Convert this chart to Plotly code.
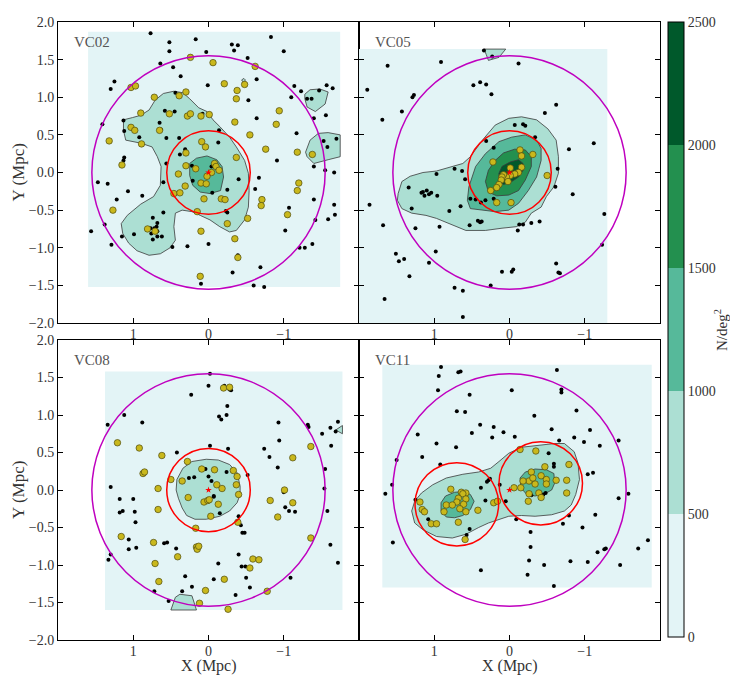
import plotly.graph_objects as go

# ---------------- data ----------------
panel_names = ["VC02", "VC05", "VC08", "VC11"]
level_edges = [0, 500, 1000, 1500, 2000, 2500]
level_colors = ["#e3f4f6", "#acdfd3", "#56b99a", "#23904f", "#00592b"]
x_tick_vals = [1, 0, -1]
x_tick_text = ["1", "0", "\u22121"]
y_tick_vals = [-2.0, -1.5, -1.0, -0.5, 0.0, 0.5, 1.0, 1.5, 2.0]
y_tick_text = ["\u22122.0", "\u22121.5", "\u22121.0", "\u22120.5", "0.0", "0.5", "1.0", "1.5", "2.0"]

# density-grid extents (x_left, x_right, y_bottom, y_top)
grid_extent = [
    [1.60, -1.75, -1.52, 1.87],
    [2.05, -1.30, -2.05, 1.64],
    [1.375, -1.78, -1.60, 1.58],
    [1.69, -1.89, -1.30, 1.67],
]

# red circles (cx, cy, r) and magenta circle radius
red_circles = [
    [[0.0, 0.0, 0.555]],
    [[0.0, 0.0, 0.555]],
    [[0.0, 0.0, 0.555]],
    [[0.70, -0.19, 0.555], [-0.415, 0.09, 0.555]],
]
outer_radius = [1.55, 1.55, 1.55, 1.55]

# ---- contour polygons: (level index, x list, y list) ----
vc02_contours = [
    (1,
     [0.46, 0.34, 0.25, 0.13, 0.02, -0.06, -0.15, -0.28, -0.37, -0.48, -0.53, -0.54, -0.53, -0.48, -0.37, -0.28,
      -0.15, -0.02, 0.11, 0.22, 0.35, 0.44, 0.46, 0.44, 0.51, 0.64, 0.79, 0.95, 1.06, 1.14, 1.16, 1.08, 0.90, 0.73,
      0.64, 0.63, 0.68, 0.75, 0.90, 1.10, 1.13, 1.13, 1.01, 0.90, 0.79, 0.71, 0.60],
     [1.08, 1.06, 0.98, 0.86, 0.81, 0.70, 0.61, 0.47, 0.34, 0.16, -0.01, -0.24, -0.46, -0.63, -0.77, -0.79,
      -0.72, -0.63, -0.57, -0.52, -0.50, -0.54, -0.72, -0.90, -1.00, -1.08, -1.10, -1.04, -0.94, -0.81, -0.68, -0.57,
      -0.42, -0.32, -0.17, 0.08, 0.21, 0.34, 0.39, 0.43, 0.56, 0.70, 0.73, 0.76, 0.83, 0.96, 1.05]),
    (1,
     [-1.28, -1.35, -1.48, -1.59, -1.55, -1.42, -1.31, -1.28],
     [1.04, 1.10, 1.11, 1.07, 0.91, 0.81, 0.87, 0.98]),
    (1,
     [-1.29, -1.35, -1.46, -1.59, -1.75, -1.75, -1.59, -1.40, -1.31],
     [0.27, 0.43, 0.52, 0.53, 0.50, 0.21, 0.17, 0.12, 0.21]),
    (1,
     [-0.44, -0.47, -0.49, -0.47],
     [1.23, 1.25, 1.23, 1.19]),
    (2,
     [0.25, 0.16, 0.02, -0.11, -0.18, -0.20, -0.16, -0.02, 0.11, 0.21, 0.25],
     [0.12, 0.19, 0.22, 0.17, 0.08, -0.06, -0.24, -0.28, -0.26, -0.17, -0.04]),
]

vc05_contours = [
    (1,
     [1.48, 1.43, 1.32, 1.15, 0.97, 0.76, 0.62, 0.52, 0.36, 0.19, 0.01, -0.16, -0.36, -0.51, -0.62, -0.65, -0.65,
      -0.59, -0.49, -0.42, -0.29, -0.21, -0.09, 0.10, 0.32, 0.58, 0.71, 0.84, 0.97, 1.11, 1.30, 1.43, 1.49],
     [-0.28, -0.12, -0.05, 0.00, 0.02, 0.08, 0.12, 0.21, 0.43, 0.63, 0.72, 0.74, 0.70, 0.58, 0.43, 0.21, -0.01,
      -0.19, -0.32, -0.46, -0.54, -0.66, -0.72, -0.74, -0.77, -0.77, -0.72, -0.66, -0.61, -0.57, -0.54, -0.48, -0.37]),
    (1,
     [0.34, 0.05, 0.14, 0.28, 0.31],
     [1.64, 1.64, 1.53, 1.49, 1.57]),
    (2,
     [0.56, 0.54, 0.45, 0.32, 0.14, -0.03, -0.21, -0.36, -0.42, -0.42, -0.36, -0.25, -0.12, 0.01, 0.19, 0.36, 0.52],
     [-0.37, -0.19, 0.08, 0.25, 0.41, 0.47, 0.50, 0.43, 0.32, 0.16, -0.06, -0.24, -0.41, -0.50, -0.52, -0.50, -0.48]),
    (3,
     [0.32, 0.28, 0.19, 0.08, -0.07, -0.21, -0.29, -0.29, -0.21, -0.12, 0.01, 0.17, 0.28],
     [-0.12, 0.03, 0.16, 0.26, 0.31, 0.30, 0.21, 0.08, -0.10, -0.24, -0.30, -0.31, -0.26]),
    (4,
     [0.14, 0.10, -0.01, -0.12, -0.18, -0.18, -0.12, -0.03, 0.08, 0.14],
     [-0.01, 0.08, 0.14, 0.17, 0.12, 0.03, -0.06, -0.12, -0.16, -0.10]),
]

vc08_contours = [
    (1,
     [0.42, 0.34, 0.22, 0.03, -0.13, -0.28, -0.38, -0.42, -0.42, -0.38, -0.28, -0.15, 0.03, 0.18, 0.29, 0.35, 0.40, 0.43],
     [0.14, 0.29, 0.38, 0.41, 0.40, 0.34, 0.23, 0.05, -0.06, -0.17, -0.28, -0.35, -0.39, -0.39, -0.34, -0.24, -0.11, 0.00]),
    (1,
     [0.50, 0.44, 0.38, 0.22, 0.16],
     [-1.60, -1.43, -1.39, -1.41, -1.60]),
    (1,
     [-1.69, -1.78, -1.78],
     [0.80, 0.86, 0.75]),
]

vc11_contours = [
    (1,
     [1.30, 1.26, 1.17, 1.02, 0.84, 0.62, 0.41, 0.25, 0.14, 0.01, -0.16, -0.38, -0.60, -0.73, -0.86, -0.91, -0.93,
      -0.88, -0.82, -0.73, -0.56, -0.34, -0.16, 0.01, 0.14, 0.28, 0.41, 0.58, 0.76, 0.97, 1.15, 1.26],
     [-0.28, -0.15, -0.04, 0.07, 0.16, 0.21, 0.24, 0.29, 0.38, 0.49, 0.57, 0.60, 0.62, 0.62, 0.51, 0.36, 0.14,
      -0.06, -0.20, -0.28, -0.33, -0.35, -0.34, -0.35, -0.39, -0.44, -0.50, -0.59, -0.64, -0.62, -0.53, -0.44]),
    (2,
     [0.91, 0.85, 0.73, 0.60, 0.52, 0.47, 0.52, 0.62, 0.73, 0.84, 0.91],
     [-0.17, -0.08, -0.03, -0.02, -0.06, -0.15, -0.26, -0.34, -0.37, -0.36, -0.28]),
    (2,
     [-0.14, -0.21, -0.34, -0.49, -0.59, -0.60, -0.56, -0.47, -0.34, -0.23, -0.15],
     [0.16, 0.24, 0.28, 0.27, 0.22, 0.09, 0.00, -0.05, -0.08, -0.06, 0.03]),
]
contours = [vc02_contours, vc05_contours, vc08_contours, vc11_contours]

# ---- black points (all sources) ----
vc02_black_x = [0.77, 0.52, 0.52, 0.17, 0.03, -0.31, -0.39, -0.34, -0.83, -1.00, -0.52, 0.64, 0.47, 0.37, 1.25, 1.30,
                0.01, -0.64, -1.14, -1.23, -1.10, -1.47, -1.57, -1.65, -1.31, -1.37, 0.44, 0.45, 0.58, -0.53, 0.08,
                -1.40, -1.56, -0.64, 1.13, 1.41, 1.12, 0.65, 0.63, -0.14, 0.92, 0.56, 0.39, -1.17, -1.53, -1.70,
                -1.58, -0.13, 0.31, 0.38, 1.12, 1.13, 0.56, -0.04, 0.22, -1.40, -1.55, -1.67, -0.67, -0.40, 0.21,
                1.47, 1.34, 1.07, 0.88, 0.60, -0.05, -0.25, -0.62, -0.91, 1.22, -1.40, -1.67, -1.07, -0.23, -0.25,
                0.60, -1.42, -1.59, -1.68, 1.38, 1.56, 0.74, 0.68, 0.77, 0.72, 0.69, 0.68, 0.76, 0.68, 0.74, 0.62,
                1.15, 0.99, 1.29, 0.48, 0.28, 0.00, -0.39, -0.38, -1.02, -1.21, -1.28, -1.38, -0.69, -0.32, -0.60,
                -0.74, 0.10]
vc02_black_y = [1.85, 1.73, 1.61, 1.77, 1.60, 1.70, 1.69, 1.62, 1.80, 1.61, 1.52, 1.45, 1.40, 1.28, 1.21, 1.11,
                1.16, 1.24, 1.15, 1.08, 1.00, 1.09, 1.16, 1.12, 0.98, 0.98, 1.06, 0.81, 0.82, 0.96, 0.78,
                0.72, 0.76, 0.72, 0.69, 0.64, 0.55, 0.66, 0.57, 0.56, 0.47, 0.46, 0.46, 0.52, 0.42, 0.45,
                0.34, 0.40, 0.31, 0.24, 0.20, 0.16, 0.12, 0.08, 0.09, 0.08, 0.03, 0.00, -0.07, -0.09, -0.11,
                -0.13, -0.15, -0.25, -0.31, -0.13, -0.27, -0.23, -0.22, 0.16, -0.36, -0.36, -0.43, -0.47, -0.51, -0.53,
                -0.53, -0.63, -0.62, -0.56, -0.69, -0.78, -0.60, -0.67, -0.74, -0.74, -0.72, -0.78, -0.81, -0.85, -0.89, -0.85,
                -0.85, -0.82, -0.96, -0.99, -0.98, -0.95, -1.10, -1.12, -0.77, -1.00, -1.00, -0.95, -1.26, -1.33, -1.50,
                -1.52, -1.48]

vc02_yellow_x = [0.24, -0.06, -0.62, -0.21, 1.03, 0.97, 0.30, 0.39, 0.72, -0.38, -0.48, -0.37, 0.90, 0.52, 0.28,
                 0.24, 0.10, -0.01, -0.94, -0.90, -0.35, 1.03, 0.98, 0.65, -0.55, 1.32, 0.89, 0.09, 0.04, -0.76,
                 0.30, -0.37, -1.18, -1.38, 1.15, 0.30, 0.17, -0.08, -0.10, -0.14, -0.04, 0.02, 0.40, 0.10, 0.03,
                 0.31, 0.46, 0.38, 0.06, -0.17, -0.22, -1.20, -1.18, 1.27, 0.15, -0.71, -0.70, -1.05, -0.52, -0.25,
                 0.81, 0.71, 0.10, -0.35, -0.39, 0.11]
vc02_yellow_y = [1.53, 1.46, 1.41, 1.18, 1.13, 1.15, 1.07, 1.02, 1.00, 1.09, 1.17, 0.98, 0.79, 0.78, 0.75,
                 0.78, 0.75, 0.77, 0.82, 0.64, 0.67, 0.60, 0.56, 0.56, 0.50, 0.42, 0.38, 0.41, 0.34, 0.31,
                 0.26, 0.20, 0.27, 0.24, 0.10, 0.09, 0.05, 0.12, 0.08, 0.03, 0.00, -0.05, -0.02, -0.14, -0.15,
                 -0.18, -0.28, -0.27, -0.35, -0.35, -0.36, -0.14, -0.24, -0.50, -0.52, -0.36, -0.44, -0.56, -0.61, -0.68,
                 -0.75, -0.78, -0.78, -0.88, -1.13, -1.38]

vc05_black_x = [1.89, 1.62, 0.91, 1.27, 1.29, 1.43, 1.69, 0.48, 0.39, 0.31, 0.24, -0.62, -0.47, -0.07, -0.18, -0.21,
                -0.34, 0.31, 0.21, -0.79, -1.12, 0.73, 0.63, 0.59, 0.97, -0.64, 1.34, 1.17, 1.15, 1.13, 1.10, 1.07,
                1.04, 0.96, 1.86, 1.30, 0.80, 0.65, 0.52, 0.45, 0.38, 0.32, 0.21, -0.61, -0.84, -1.26, 1.68, 1.25,
                0.93, 0.53, 0.42, 0.39, 0.37, -0.13, -0.18, -0.29, -0.40, -0.11, -1.23, 1.51, 1.47, 1.40, 0.98,
                1.07, 1.33, -0.62, -0.65, -0.67, 0.10, -0.03, -0.05, 0.25, 0.73, 0.62, 1.66, 0.62, -0.12, 0.23, 0.34]
vc05_black_y = [1.10, 1.42, 1.47, 1.03, 1.00, 0.81, 0.70, 1.16, 1.20, 1.17, 1.04, 0.90, 0.79, 0.63, 0.64, 0.62,
                0.47, 0.42, 0.33, 0.31, 0.39, 0.05, 0.02, -0.09, -0.02, 0.05, -0.20, -0.27, -0.26, -0.31, -0.24, -0.29,
                -0.27, -0.31, -0.43, -0.48, -0.51, -0.45, -0.35, -0.36, -0.40, -0.37, -0.35, -0.19, -0.29, -0.55, -0.70, -0.74,
                -0.72, -0.70, -0.64, -0.66, -0.65, -0.69, -0.69, -0.67, -0.65, -0.77, -0.96, -1.08, -1.18, -1.15, -1.05,
                -1.20, -1.38, -1.21, -1.33, -1.34, -1.32, -1.32, -1.29, -1.50, -1.53, -1.57, -1.68, -1.92, 1.45, 1.54, 1.62]

vc05_yellow_x = [0.22, -0.14, -0.16, -0.31, -0.01, -0.16, -0.12, -0.07, -0.01, 0.04, 0.08, 0.10, 0.11, 0.02, 0.14,
                 0.17, 0.25, -0.50, 0.17, -0.02]
vc05_yellow_y = [0.14, 0.30, 0.22, 0.24, 0.06, 0.07, 0.00, -0.02, -0.04, -0.06, -0.03, -0.06, -0.10, -0.12, -0.16,
                 -0.20, -0.24, -0.04, -0.40, -0.40]

vc08_black_x = [-0.02, 0.00, 0.23, -0.21, -0.28, -0.30, -0.25, -0.14, -0.17, -0.24, 1.34, 1.12, 0.88, -0.02, -0.26,
                0.42, -0.74, -0.81, -0.93, -0.94, -0.92, -1.32, -1.33, -1.51, -1.62, -1.72, -1.69, -1.63, -1.55, -1.54,
                -1.58, -1.62, -1.72, 1.30, 1.18, 1.18, 1.14, 1.00, 0.98, 0.97, 1.06, 1.06, 0.96, 1.30, 1.33, 0.26,
                0.19, 0.04, 0.00, -0.04, -0.24, -0.52, -0.07, -0.07, -0.15, -1.00, -1.02, -1.07, -1.15, -1.09, -0.40,
                -0.43, -0.45, -0.48, -0.40, -0.44, -0.49, -0.50, -0.55, -0.36, -0.13, -0.07, 0.31, 0.22, 0.43, 0.59,
                0.55, 0.35, 0.72, 0.53]
vc08_black_y = [1.55, 1.39, 1.27, 1.39, 1.34, 1.33, 1.12, 0.98, 0.94, 1.00, 0.87, 1.00, 0.90, 0.59, 0.55,
                0.50, 0.55, 0.44, 0.90, 0.66, 0.30, 0.87, 0.84, 0.75, 0.83, 0.91, 0.78, 0.59, 0.28, 0.02,
                -0.28, -0.73, -0.97, 0.04, -0.12, -0.30, -0.28, -0.12, -0.29, -0.43, -0.66, -0.79, -0.77, -0.86, -0.93, 0.16,
                0.17, 0.28, 0.18, 0.12, 0.24, 0.20, -0.08, -0.09, -0.31, -0.03, -0.23, -0.28, -0.29, -1.17, -0.35,
                -0.47, -0.57, -0.57, -0.86, -1.02, -1.02, -1.17, -1.30, -1.40, -0.98, -1.19, -1.15, -1.29, -0.78, -0.71,
                -0.70, -1.35, -1.35, -1.48]

vc08_yellow_x = [1.21, 0.92, 0.62, 0.28, 0.09, -0.08, -0.33, -0.38, 0.87, 0.85, 0.35, 0.50, -0.11, -0.18, -0.37,
                 -0.40, 0.67, 0.67, 0.27, 0.06, 0.01, -0.01, -0.13, -0.03, -0.39, 0.17, -0.82, -1.01, -1.12, -0.92,
                 -1.12, -1.36, -1.36, 1.16, 0.73, 0.41, 0.16, 0.15, 0.13, 0.71, 0.66, -0.21, 0.04, 0.12, -0.26,
                 -0.55, -0.59, -0.67, -0.78, -0.20, -0.28]
vc08_yellow_y = [0.63, 0.56, 0.46, 0.38, 0.28, 0.27, 0.26, 0.18, 0.22, 0.24, 0.12, 0.14, 0.07, 0.02, 0.07,
                 -0.06, 0.02, -0.26, -0.10, -0.16, -0.14, -0.13, -0.19, -0.35, -0.43, -0.51, -0.14, 0.00, -0.17, -0.36,
                 0.43, 0.58, -0.64, -0.62, -0.70, -0.89, -0.76, -0.79, -0.75, -0.98, -1.22, -1.19, -1.34, -1.51, -1.59,
                 -1.04, -0.92, -0.93, -1.35, 1.36, 1.37]

vc11_black_x = [0.91, 0.94, 0.68, 0.65, -0.63, 0.95, 0.53, -0.03, -0.69, -0.69, 0.70, 0.59, -0.33, -0.89, 1.22,
                0.97, 0.71, 0.50, 0.39, 0.21, 0.23, 0.08, -0.07, -0.56, -0.66, -0.86, -0.99, -1.07, -1.20, -1.45,
                1.16, 1.50, 0.92, -0.52, -0.59, -0.59, -1.11, -1.04, 1.56, 1.65, 1.25, 0.38, 0.32, 0.30, 0.28, 0.26,
                0.13, 0.05, -0.09, -0.29, -0.42, -0.45, -0.48, -0.71, -0.79, -0.97, -1.14, -1.45, -1.58, 1.08, 0.53,
                -0.28, -0.28, -0.26, -0.46, -0.81, -1.04, -1.17, -1.26, -1.28, -1.47, -1.71, -1.84, 1.55, 0.38, -0.24,
                -0.59, 0.57]
vc11_black_y = [1.64, 1.52, 1.57, 1.58, 1.60, 1.33, 1.27, 1.33, 1.34, 1.30, 1.05, 1.04, 0.99, 1.06, 0.74,
                0.62, 0.57, 0.76, 0.87, 0.84, 0.70, 0.77, 0.71, 0.81, 0.66, 0.70, 0.64, 0.80, 0.59, 0.66,
                0.44, 0.40, 0.34, 0.49, 0.35, 0.31, 0.23, 0.21, 0.07, -0.05, -0.13, 0.03, -0.14, 0.11, 0.13, 0.15,
                0.07, -0.15, -0.39, -0.07, -0.07, -0.06, -0.04, -0.45, -0.34, -0.50, -0.33, -0.11, -0.05, -0.39, -0.52,
                -0.56, -0.76, -0.94, -1.00, -0.95, -0.96, -0.83, -0.79, -0.78, -1.00, -0.78, -0.67, -0.70, -1.07, -1.13,
                -1.28, -0.60]

vc11_yellow_x = [0.78, 0.64, 0.58, 0.62, 0.68, 0.58, 0.70, 0.61, 0.84, 0.76, 0.66, 0.58, 0.87, 1.19, 1.16, 1.13,
                 1.04, 0.97, 0.68, 0.59, 0.42, 0.21, 0.16, -0.14, -0.35, -0.47, -0.79, -0.29, -0.42, -0.49, -0.49,
                 -0.34, -0.26, -0.31, -0.18, -0.62, -0.76, -0.76, -0.26, -0.39, -0.42, -0.25, -0.15, -0.06]
vc11_yellow_y = [0.01, -0.03, -0.04, -0.05, -0.11, -0.12, -0.16, -0.19, -0.20, -0.20, -0.25, -0.29, -0.29, -0.16,
                 -0.26, -0.29, -0.45, -0.45, -0.43, -0.66, -0.27, -0.17, -0.15, 0.54, 0.52, 0.31, 0.34, 0.24, 0.19,
                 0.14, 0.08, 0.08, 0.12, 0.16, 0.12, 0.13, 0.13, -0.04, -0.05, -0.04, -0.10, -0.15, 0.03, 0.03]

black_x = [vc02_black_x, vc05_black_x, vc08_black_x, vc11_black_x]
black_y = [vc02_black_y, vc05_black_y, vc08_black_y, vc11_black_y]
yellow_x = [vc02_yellow_x, vc05_yellow_x, vc08_yellow_x, vc11_yellow_x]
yellow_y = [vc02_yellow_y, vc05_yellow_y, vc08_yellow_y, vc11_yellow_y]

# ---------------- figure ----------------
# the page body adds an 8px offset, so the figure is shrunk and shifted
OFF = 8
W, H = 738 - OFF, 683 - 2 * OFF
ML, MT = 58 - OFF, 22 - OFF
PW, PH = 602, 618
MR, MB = W - ML - PW, H - MT - PH
FONT = "Liberation Serif, DejaVu Serif, serif"
TXT = "#333333"

x_doms = [[0.0, 0.5], [0.5, 1.0]]
y_doms = [[(640 - 323) / PH, 1.0], [0.0, (640 - 340) / PH]]

fig = go.Figure()

for i in range(4):
    row, col = divmod(i, 2)
    ax = "" if i == 0 else str(i + 1)
    xr, yr = "x" + ax, "y" + ax
    xa = dict(domain=x_doms[col], range=[2, -2], anchor=yr, showgrid=False, zeroline=False,
              showline=True, linecolor="black", linewidth=1, mirror="allticks",
              ticks="inside", ticklen=5, tickcolor="black", automargin=False,
              tickvals=x_tick_vals, ticktext=x_tick_text, ticklabelstandoff=-2,
              tickfont=dict(family=FONT, size=14, color=TXT))
    ya = dict(domain=y_doms[row], range=[-2, 2], anchor=xr, showgrid=False, zeroline=False,
              showline=True, linecolor="black", linewidth=1, mirror="allticks",
              ticks="inside", ticklen=5, tickcolor="black", automargin=False,
              tickvals=y_tick_vals, ticktext=y_tick_text, showticklabels=(col == 0),
              tickfont=dict(family=FONT, size=14, color=TXT))
    fig.layout["xaxis" + ax] = xa
    fig.layout["yaxis" + ax] = ya

    if row == 1:
        fig.add_annotation(text="X (Mpc)", xref=xr + " domain", yref="paper", x=0.5, y=-26 / PH,
                           xanchor="center", yanchor="middle", showarrow=False,
                           font=dict(family=FONT, size=16, color=TXT))
    if col == 0:
        fig.add_annotation(text="Y (Mpc)", xref="paper", yref=yr + " domain", x=-40 / PW, y=0.5,
                           xanchor="center", yanchor="middle", textangle=-90, showarrow=False,
                           font=dict(family=FONT, size=17, color=TXT))

    # lowest level: rectangle covering the density grid
    x0, x1, yb, yt = grid_extent[i]
    fig.add_trace(go.Scatter(x=[x0, x1, x1, x0, x0], y=[yb, yb, yt, yt, yb], mode="lines",
                             fill="toself", fillcolor=level_colors[0], line=dict(width=0),
                             hoverinfo="skip", showlegend=False, xaxis=xr, yaxis=yr))
    # higher levels
    for lvl, px, py in sorted(contours[i], key=lambda c: c[0]):
        fig.add_trace(go.Scatter(x=px + [px[0]], y=py + [py[0]], mode="lines", fill="toself",
                                 fillcolor=level_colors[lvl], line=dict(color="#3a3a3a", width=0.8),
                                 hoverinfo="skip", showlegend=False, xaxis=xr, yaxis=yr))
    # black points
    fig.add_trace(go.Scatter(x=black_x[i], y=black_y[i], mode="markers",
                             marker=dict(size=4, color="black"), showlegend=False,
                             xaxis=xr, yaxis=yr))
    # yellow points
    fig.add_trace(go.Scatter(x=yellow_x[i], y=yellow_y[i], mode="markers",
                             marker=dict(size=6.5, color="#c9b81c", line=dict(color="#4d4a10", width=0.7)),
                             showlegend=False, xaxis=xr, yaxis=yr))
    # centre marker
    fig.add_trace(go.Scatter(x=[0], y=[0], mode="markers",
                             marker=dict(size=5, color="red", symbol="star"), showlegend=False,
                             xaxis=xr, yaxis=yr))
    # circles
    for cx, cy, r in red_circles[i]:
        fig.add_shape(type="circle", xref=xr, yref=yr, x0=cx - r, x1=cx + r, y0=cy - r, y1=cy + r,
                      line=dict(color="red", width=1.5), layer="above")
    R = outer_radius[i]
    fig.add_shape(type="circle", xref=xr, yref=yr, x0=-R, x1=R, y0=-R, y1=R,
                  line=dict(color="#bf00bf", width=1.5), layer="above")
    # panel label
    fig.add_annotation(text=panel_names[i], xref=xr + " domain", yref=yr + " domain",
                       x=0.045, y=0.935, xanchor="left", yanchor="middle", showarrow=False,
                       font=dict(family=FONT, size=15, color="#555555"))

# colour bar
cs = []
n = len(level_colors)
for k, c in enumerate(level_colors):
    cs.append([k / n, c])
    cs.append([(k + 1) / n, c])
fig.add_trace(go.Heatmap(z=[[level_edges[0], level_edges[-1]]], x=[10, 11], y=[10],
                         zmin=level_edges[0], zmax=level_edges[-1], colorscale=cs, showscale=True,
                         hoverinfo="skip", xaxis="x", yaxis="y",
                         colorbar=dict(x=(668 - 58) / PW, xanchor="left", xpad=0, ypad=0,
                                       y=(640 - 329.5) / PH, yanchor="middle", len=615 / PH, lenmode="fraction",
                                       thickness=16, thicknessmode="pixels",
                                       outlinecolor="black", outlinewidth=1,
                                       tickvals=level_edges, ticks="", ticklabelposition="outside",
                                       tickfont=dict(family=FONT, size=14, color=TXT))))
fig.add_annotation(text="N/deg<sup>2</sup>", xref="paper", yref="paper", x=(721 - 58) / PW, y=(640 - 330) / PH,
                   xanchor="center", yanchor="middle", textangle=-90, showarrow=False,
                   font=dict(family=FONT, size=15, color=TXT))

fig.update_layout(width=W, height=H, margin=dict(l=ML, r=MR, t=MT, b=MB, autoexpand=False),
                  paper_bgcolor="white", plot_bgcolor="white", showlegend=False)

fig.write_html("out.html")
